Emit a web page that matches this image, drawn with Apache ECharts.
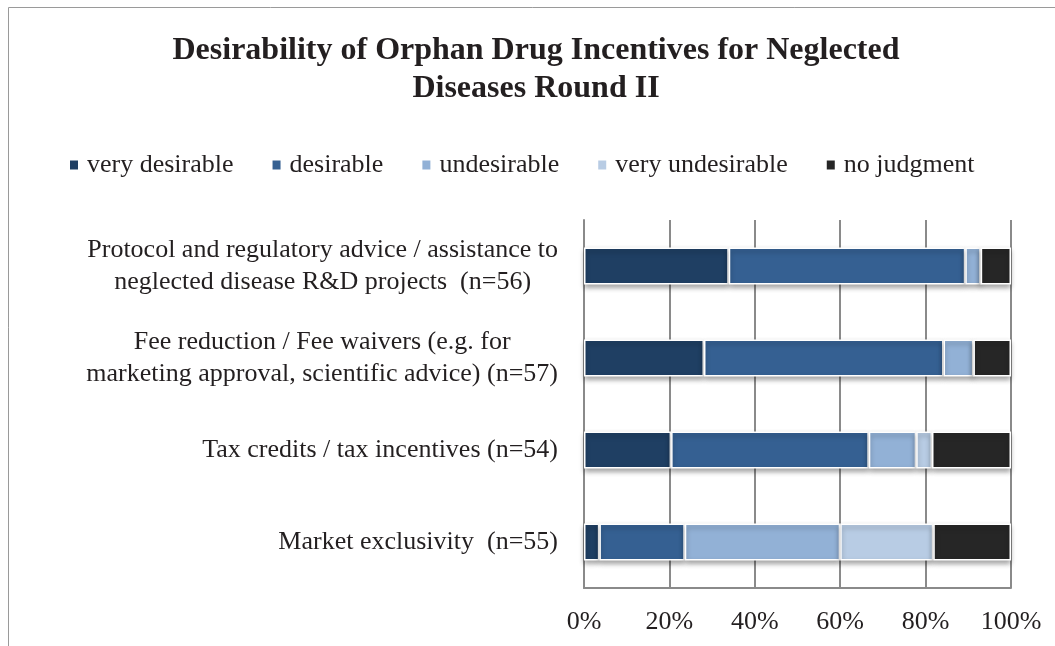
<!DOCTYPE html>
<html>
<head>
<meta charset="utf-8">
<script src="https://cdn.jsdelivr.net/npm/echarts@6/dist/echarts.min.js"></script>
<style>
  html, body { margin: 0; padding: 0; background: #fff; }
  #chart { width: 1055px; height: 646px; }
</style>
</head>
<body>
<div id="chart"></div>
<script>
// Survey categories (top to bottom), each line of the label kept separately
const categories = [
  ['Protocol and regulatory advice / assistance to', 'neglected disease R&D projects  (n=56)'],
  ['Fee reduction / Fee waivers (e.g. for', 'marketing approval, scientific advice) (n=57)'],
  ['Tax credits / tax incentives (n=54)'],
  ['Market exclusivity  (n=55)']
];

// Share of respondents (%) per answer, in category order
const veryDesirable   = [33.9, 28.1, 20.4, 3.6];
const desirable       = [55.4, 56.1, 46.3, 20.0];
const undesirable     = [3.6, 7.0, 11.1, 36.4];
const veryUndesirable = [0, 0, 3.7, 21.8];
const noJudgment      = [7.1, 8.8, 18.5, 18.2];

const seriesNames  = ['very desirable', 'desirable', 'undesirable', 'very undesirable', 'no judgment'];
const seriesValues = [veryDesirable, desirable, undesirable, veryUndesirable, noJudgment];
const seriesColors = ['#1F3F63', '#356092', '#92B1D6', '#B8CCE4', '#262626'];

const FONT = '"Liberation Serif", "Times New Roman", serif';

const chart = echarts.init(document.getElementById('chart'));

chart.setOption({
  backgroundColor: '#ffffff',
  animation: false,
  graphic: [{
    type: 'rect',
    shape: { x: 8.5, y: 7.5, width: 1100, height: 700 },
    style: { fill: 'none', stroke: '#9a9a9a', lineWidth: 1 },
    silent: true,
    z: -1
  }],
  title: {
    text: 'Desirability of Orphan Drug Incentives for Neglected\nDiseases Round II',
    left: 531,
    textAlign: 'center',
    top: 27,
    textStyle: {
      fontFamily: FONT,
      fontWeight: 'bold',
      fontSize: 32,
      lineHeight: 38,
      color: '#231f20'
    }
  },
  legend: {
    data: seriesNames,
    left: 63,
    top: 147,
    icon: 'rect',
    itemWidth: 10,
    itemHeight: 11,
    itemGap: 37,
    textStyle: { fontFamily: FONT, fontSize: 26, color: '#231f20', padding: [0, 0, 0, 3] }
  },
  grid: { left: 584, right: 44, top: 220, bottom: 58 },
  xAxis: {
    type: 'value',
    min: 0,
    max: 100,
    interval: 20,
    axisLine: { show: true, lineStyle: { color: '#8a8a8a', width: 2 } },
    axisTick: { show: false },
    splitLine: { show: true, lineStyle: { color: '#8a8a8a', width: 2 } },
    axisLabel: {
      formatter: '{value}%',
      margin: 21,
      fontFamily: FONT,
      fontSize: 26,
      color: '#231f20'
    }
  },
  yAxis: {
    type: 'category',
    inverse: true,
    data: categories.map(lines => lines.join('\n')),
    axisLine: { show: true, lineStyle: { color: '#8a8a8a', width: 2 } },
    axisTick: { show: false },
    axisLabel: {
      margin: 26,
      align: 'right',
      formatter: value => value.split('\n').map(line => '{c|' + line + '}').join('\n'),
      rich: {
        c: {
          align: 'center',
          fontFamily: FONT,
          fontSize: 26,
          lineHeight: 32,
          color: '#231f20'
        }
      }
    }
  },
  series: seriesNames.map((name, i) => ({
    name: name,
    type: 'bar',
    stack: 'total',
    barWidth: 37,
    data: seriesValues[i],
    itemStyle: {
      color: seriesColors[i],
      borderColor: '#ffffff',
      borderWidth: 1.5,
      shadowColor: 'rgba(0,0,0,0.35)',
      shadowBlur: 5,
      shadowOffsetY: 3
    }
  }))
});
</script>
</body>
</html>
